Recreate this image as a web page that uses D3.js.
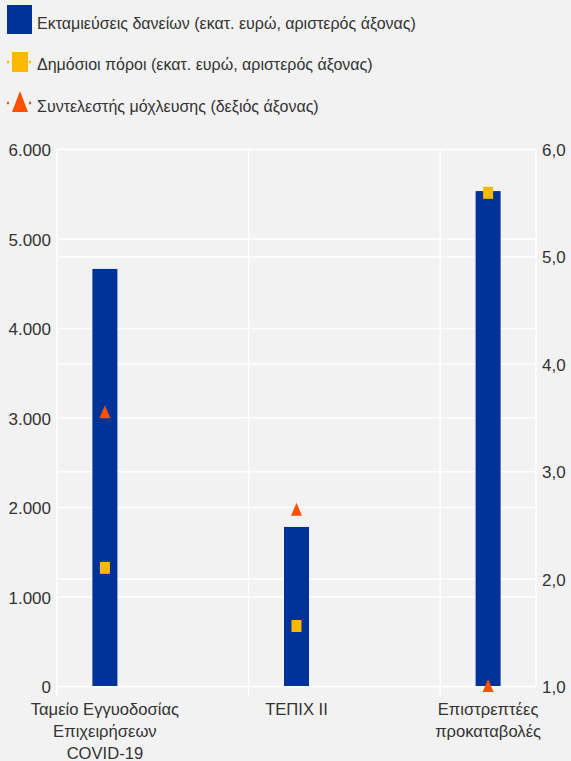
<!DOCTYPE html>
<html><head><meta charset="utf-8">
<script src="https://cdn.jsdelivr.net/npm/d3@7"></script>
<style>
html,body{margin:0;padding:0;background:#f2f2f2;}
svg{display:block;font-family:"Liberation Sans",Arial,sans-serif;}
</style></head>
<body>
<script>
const categories = [["Ταμείο Εγγυοδοσίας","Επιχειρήσεων","COVID-19"],["ΤΕΠΙΧ ΙΙ"],["Επιστρεπτέες","προκαταβολές"]];
const catKeys = ["Ταμείο Εγγυοδοσίας Επιχειρήσεων COVID-19","ΤΕΠΙΧ ΙΙ","Επιστρεπτέες προκαταβολές"];
const loans = [4660, 1777, 5530];
const publicFunds = [1320, 670, 5510];
const leverage = [3.55, 2.64, 1.0];
const leftTicks = [0,1000,2000,3000,4000,5000,6000];
const rightTicks = [1,2,3,4,5,6];
const legendLabels = ["Εκταμιεύσεις δανείων (εκατ. ευρώ, αριστερός άξονας)","Δημόσιοι πόροι (εκατ. ευρώ, αριστερός άξονας)","Συντελεστής μόχλευσης (δεξιός άξονας)"];

const W=571,H=761;
const L=57,R=536,T=149,B=686;
const blue="#003399", orange="#ffb800", red="#ff4f00", txt="#333";
const svg=d3.select("body").append("svg").attr("width",W).attr("height",H);
svg.append("rect").attr("width",W).attr("height",H).attr("fill","#f2f2f2");

const x=d3.scalePoint().domain(catKeys).range([L,R]).padding(0.25);
const step=x.step();
const yL=d3.scaleLinear().domain([0,6000]).range([B,T]);
const yR=d3.scaleLinear().domain([1,6]).range([B,T]);
const fmtL=d3.formatLocale({decimal:",",thousands:".",grouping:[3],currency:["","€"]});
const fL=fmtL.format(",.0f"), fR=fmtL.format(".1f");

// gridlines
const g=svg.append("g");
g.selectAll(".hl").data(leftTicks).join("line").attr("x1",L).attr("x2",R)
 .attr("y1",d=>yL(d)+0.5).attr("y2",d=>yL(d)+0.5).attr("stroke","#fff").attr("stroke-width",1.5);
g.selectAll(".hr").data(rightTicks).join("line").attr("x1",L).attr("x2",R)
 .attr("y1",d=>yR(d)+0.5).attr("y2",d=>yR(d)+0.5).attr("stroke","#fff").attr("stroke-width",1.5);
g.selectAll(".v").data(catKeys).join("line").attr("x1",d=>x(d)-step/4).attr("x2",d=>x(d)-step/4)
 .attr("y1",T).attr("y2",B+10).attr("stroke","#fff").attr("stroke-width",1.5);
g.append("line").attr("x1",R).attr("x2",R).attr("y1",T).attr("y2",B).attr("stroke","#fff").attr("stroke-width",1.5);

// bars
const bw=25;
svg.selectAll(".bar").data(loans).join("rect")
 .attr("x",(d,i)=>x(catKeys[i])-bw/2).attr("width",bw)
 .attr("y",d=>yL(d)).attr("height",d=>B-yL(d)).attr("fill",blue);

// squares
svg.selectAll(".sq").data(publicFunds).join("rect")
 .attr("x",(d,i)=>x(catKeys[i])-5).attr("y",d=>yL(d)-6).attr("width",10).attr("height",12).attr("fill",orange);

// triangles
svg.selectAll(".tri").data(leverage).join("path")
 .attr("d",(d,i)=>{const cx=x(catKeys[i]),cy=yR(d);return `M${cx},${cy-7}L${cx+5.5},${cy+6}L${cx-5.5},${cy+6}Z`;})
 .attr("fill",red);

// axis labels
svg.selectAll(".tl").data(leftTicks).join("text").attr("x",51).attr("y",d=>yL(d)+7)
 .attr("text-anchor","end").attr("font-size",17).attr("fill",txt).text(d=>fL(d));
svg.selectAll(".tr").data(rightTicks).join("text").attr("x",542).attr("y",d=>yR(d)+7)
 .attr("text-anchor","start").attr("font-size",17).attr("fill",txt).text(d=>fR(d));

// x labels
categories.forEach((lines,i)=>{
  const t=svg.append("text").attr("text-anchor","middle").attr("font-size",16.6).attr("fill",txt);
  lines.forEach((s,j)=>t.append("tspan").attr("x",x(catKeys[i])).attr("y",715+j*22).text(s));
});

// legend
const lg=svg.append("g");
lg.append("rect").attr("x",7).attr("y",5).attr("width",25).attr("height",29).attr("fill",blue);
lg.append("line").attr("x1",7).attr("x2",32).attr("y1",62).attr("y2",62).attr("stroke",orange).attr("stroke-width",2.5).attr("stroke-dasharray","2,20");
lg.append("rect").attr("x",12).attr("y",52).attr("width",16).attr("height",20).attr("fill",orange);
lg.append("line").attr("x1",7).attr("x2",32).attr("y1",103).attr("y2",103).attr("stroke",red).attr("stroke-width",2.5).attr("stroke-dasharray","2,20");
lg.append("path").attr("d","M20,91L28,112L12,112Z").attr("fill",red);
lg.selectAll(".lt").data(legendLabels).join("text").attr("x",37).attr("y",(d,i)=>28.5+i*41.5)
 .attr("font-size",16).attr("fill",txt).text(d=>d);
</script>
</body></html>
